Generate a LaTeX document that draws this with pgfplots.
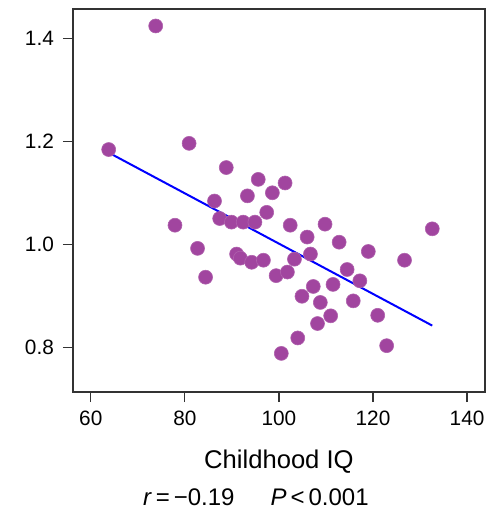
\documentclass[border=0pt]{standalone}
\usepackage{fontspec}
\setmainfont{Liberation Sans}
\usepackage{pgfplots}
\pgfplotsset{compat=1.18}
\definecolor{dotpurple}{HTML}{A1459F}

\begin{document}
\begin{tikzpicture}
\begin{axis}[
    scale only axis,
    width=206pt, height=191.5pt,
    xmin=56.2, xmax=143.8,
    ymin=0.713, ymax=1.457,
    xtick={60,80,100,120,140},
    ytick={0.8,1.0,1.2,1.4},
    yticklabel style={xshift=-1pt, /pgf/number format/fixed, /pgf/number format/fixed zerofill, /pgf/number format/precision=1},
    /pgf/number format/assume math mode=true,
    tick align=outside,
    major tick length=5pt,
    tick style={black!80, line width=0.6pt},
    axis line style={black!80, line width=0.6pt},
    xtick pos=bottom, ytick pos=left,
    tick label style={font=\fontsize{10.4}{12}\selectfont},
    xticklabel style={yshift=-1pt},
    xlabel={Childhood IQ},
    xlabel style={font=\fontsize{12.8}{15}\selectfont, yshift=-5pt},
    clip=false,
]
\addplot[only marks, mark=*, mark size=3.5pt,
    mark options={fill=dotpurple, draw=dotpurple!85!white, line width=0.3pt}]
    coordinates {
    (73.8,1.424) (63.8,1.184) (80.9,1.196) (88.8,1.149) (95.6,1.126)
    (101.3,1.119) (93.3,1.094) (98.6,1.100) (86.3,1.084) (97.4,1.062)
    (77.9,1.037) (87.4,1.050) (89.9,1.043) (92.4,1.043) (94.9,1.043)
    (102.4,1.037) (109.8,1.039) (106.0,1.014) (112.8,1.004) (119.0,0.986)
    (132.6,1.030) (126.7,0.969) (82.7,0.992) (84.4,0.936) (91.0,0.981)
    (91.8,0.973) (94.2,0.965) (96.7,0.969) (99.4,0.939) (101.8,0.946)
    (103.3,0.971) (106.7,0.981) (114.5,0.951) (117.2,0.929) (107.3,0.918)
    (111.5,0.922) (104.9,0.899) (108.8,0.887) (115.8,0.890) (111.0,0.861)
    (108.2,0.846) (121.0,0.862) (104.0,0.818) (100.5,0.788) (122.9,0.803)
};
\addplot[blue, line width=1pt] coordinates {(63.8,1.178) (132.6,0.842)};
\node[font=\fontsize{12}{14}\selectfont, anchor=center]
    at (axis description cs:0.444,-0.276)
    {\textit{r}\,=\,−0.19\hspace{18pt}\textit{P}\,<\,0.001};
\path (axis description cs:-0.177,-0.3185) rectangle (axis description cs:1.019,1.0235);
\end{axis}
\end{tikzpicture}
\end{document}
